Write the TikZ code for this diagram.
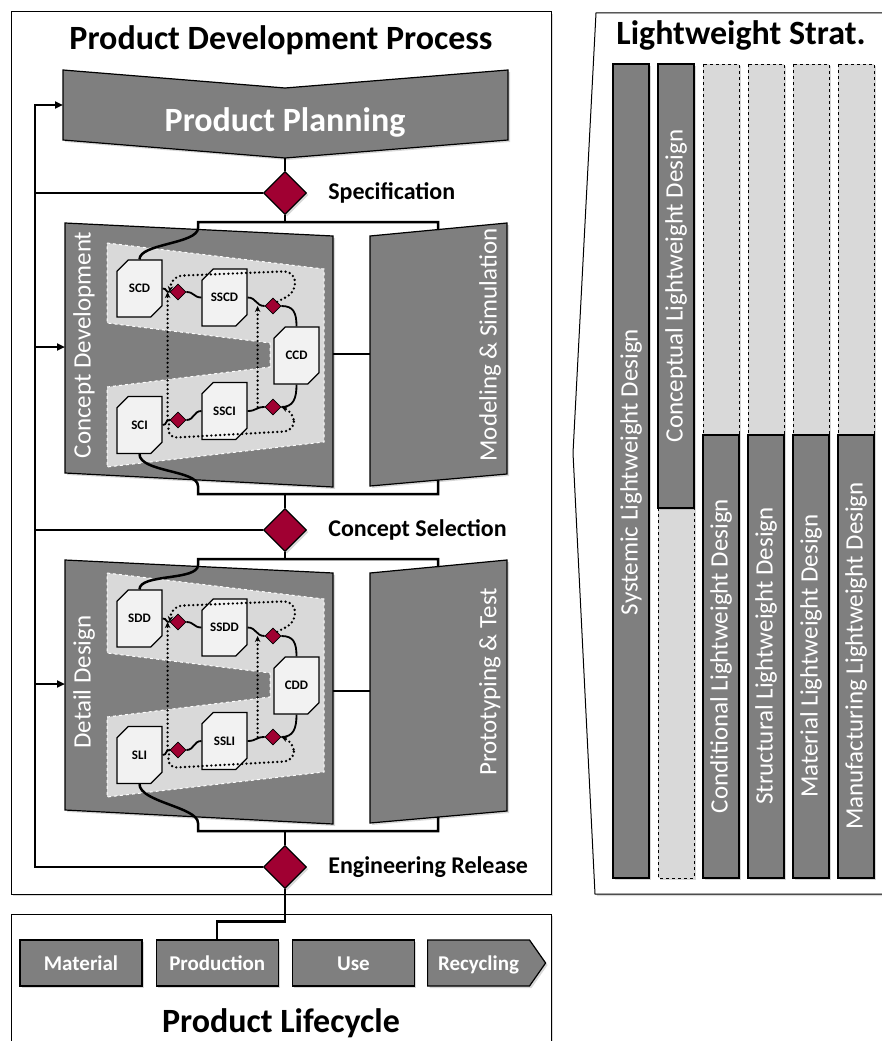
\documentclass[tikz,border=0pt]{standalone}
\usepackage{fontspec}
\setmainfont{Carlito}
\usetikzlibrary{arrows.meta, calc, positioning, shapes.geometric, shapes.misc, shapes.symbols, shadows}

\definecolor{blockgray}{RGB}{127,127,127}
\definecolor{zonegray}{RGB}{217,217,217}
\definecolor{docgray}{RGB}{242,242,242}
\definecolor{gatered}{RGB}{160,0,50}

\tikzset{
  softshadow/.style={drop shadow={opacity=.3, shadow xshift=2pt, shadow yshift=-2pt}},
  panel/.style={draw=black, line width=1pt, fill=white, softshadow},
  block/.style={draw=black, line width=1.2pt, fill=blockgray, softshadow},
  zone/.style={draw=white, dashed, line width=1pt, fill=zonegray},
  doc/.style={chamfered rectangle, chamfered rectangle corners={north west, south east},
    chamfered rectangle sep=7pt, draw=black, line width=1.2pt, fill=docgray,
    minimum width=45pt, minimum height=57pt, inner sep=0pt,
    font=\bfseries\fontsize{13}{13}\selectfont},
  gate/.style={diamond, draw=black, line width=1.2pt, fill=gatered, inner sep=0pt,
    minimum size=43pt, softshadow},
  subgate/.style={diamond, draw=black, line width=.8pt, fill=gatered, inner sep=0pt,
    minimum size=16pt},
  conn/.style={line width=2.5pt},
  link/.style={line width=1.8pt},
  iterate/.style={line width=2.6pt, line cap=round, dash pattern=on 0pt off 4.4pt,
    -{Stealth[length=6pt,width=5.5pt]}},
  tip/.style={-{Triangle[length=8pt,width=7pt]}},
  headline/.style={font=\bfseries\fontsize{34}{34}\selectfont, inner sep=0pt, anchor=base},
  gatelabel/.style={font=\bfseries\fontsize{24}{24}\selectfont, inner sep=0pt, anchor=west},
  stagetext/.style={rotate=90, text=white, inner sep=0pt, font=\fontsize{25}{25}\selectfont},
  phase/.style={draw=black, line width=1.2pt, fill=blockgray, text=white,
    minimum width=122pt, minimum height=46pt, inner sep=0pt, text height=14pt, text depth=0pt,
    font=\bfseries\fontsize{21}{21}\selectfont, softshadow},
  lwbar/.style={draw=black, line width=1.2pt, fill=blockgray, softshadow},
  lwghost/.style={draw=black, line width=.8pt, dashed, fill=zonegray, softshadow},
}

% one development stage: #1 prefix, #2 shift, #3 shift of the inner loop,
% #4 stage name, #5 side block, #6 design letter, #7 integration letter
\newcommand{\devstage}[7]{%
  \begin{scope}[shift={(0,#2)}]
    \draw[block] (65,223) -- (333,236) -- (333,487) -- (65,473) -- cycle;
    \draw[block] (370,236) -- (507,223) -- (507,474) -- (370,486) -- cycle;
    \node[stagetext] (#1stage) at (84,345) {#4};
    \node[stagetext] (#1side) at (490,345) {#5};
    \coordinate (#1in) at (65,347);
    \coordinate (#1out) at (333,354);
    \coordinate (#1sidein) at (370,354);
    \coordinate (#1tl) at (198,222);
    \coordinate (#1tr) at (438,222);
    \coordinate (#1bl) at (198,494);
    \coordinate (#1br) at (438,494);
    \coordinate (#1stop) at (438,230);
    \coordinate (#1sbot) at (438,480);
    \begin{scope}[shift={(0,#3)}]
      \draw[zone] (107,243) -- (324,269) -- (324,442) -- (107,467) -- (107,387)
        -- (270,367) -- (270,343) -- (107,323) -- cycle;
      \node[doc] (#1sys) at (139.5,288.5) {S#6D};
      \node[doc] (#1sub) at (224.5,297.5) {SS#6D};
      \node[doc] (#1comp) at (296.5,355.5) {C#6D};
      \node[doc] (#1subi) at (224.5,411) {SS#7I};
      \node[doc] (#1sysi) at (139.5,425) {S#7I};
      \node[subgate] (#1g1) at (178,292) {};
      \node[subgate] (#1g2) at (273,306) {};
      \node[subgate] (#1g3) at (273,407) {};
      \node[subgate] (#1g4) at (178,420) {};
      % iteration loops
      \draw[iterate, rounded corners=10pt] (#1g2.north east) -- (296,292) -- (294,271)
        -- (172,276) -- (#1g1.west);
      \draw[iterate] ([xshift=-2pt]#1g4.west) -- ([xshift=-2pt]#1g1.west);
      \draw[iterate, rounded corners=10pt] (#1g4.west) -- (167,438) -- (294,431)
        -- (294,412) -- (#1g3.east);
      \draw[iterate] ([xshift=-7pt]#1g3.west) -- ([xshift=-7pt]#1g2.west);
    \end{scope}
    % design chain
    \draw[link] (#1sys.east) .. controls +(5,0) and +(-5,0) .. (#1g1.west);
    \draw[link] (#1g1.east) .. controls +(8,0) and +(-8,0) .. (#1sub.west);
    \draw[link] (#1sub.east) .. controls +(9,0) and +(-9,0) .. (#1g2.west);
    \draw[link] (#1g2.east) .. controls +(12,0) and +(0,-14) .. (#1comp.north);
    \draw[link] (#1comp.south) .. controls +(0,14) and +(12,0) .. (#1g3.east);
    \draw[link] (#1g3.west) .. controls +(-9,0) and +(9,0) .. (#1subi.east);
    \draw[link] (#1subi.west) .. controls +(-8,0) and +(8,0) .. (#1g4.east);
    \draw[link] (#1g4.west) .. controls +(-5,0) and +(5,0) .. (#1sysi.east);
    % into and out of the stage
    \draw[conn] (#1stop) -- (#1tr) -- (#1tl) -- ($(#1tl)+(0,6)$)
      .. controls +(0,16) and +(0,-16) .. (#1sys.north);
    \draw[conn] (#1sysi.south) .. controls +(0,18) and +(0,-16) .. ($(#1bl)+(0,-8)$)
      -- (#1bl) -- (#1br) -- (#1sbot);
    \draw[conn] (#1out) -- (#1sidein);
  \end{scope}}

\begin{document}
\begin{tikzpicture}[x=1pt, y=-1pt]
\useasboundingbox (0,0) rectangle (882,1041);

% frames
\draw[panel] (11,12) rectangle (551,894);
\draw[panel] (11,914) rectangle (551,1090);
\draw[panel] (596,13) -- (900,13) -- (900,894) -- (595,894) -- (573,453) -- cycle;

\node[headline] (pdp) at (281,50) {Product Development Process};
\node[headline] (lws) at (741,45) {Lightweight Strat.};
\node[headline] (plc) at (281,1032) {Product Lifecycle};

% planning
\draw[block] (63,70) -- (285,88) -- (508,70) -- (508,140) -- (285,158) -- (63,140) -- cycle;
\node[font=\bfseries\fontsize{34}{34}\selectfont, text=white, inner sep=0pt, anchor=base]
  (plan) at (285,131) {Product Planning};
\coordinate (planin) at (63,105);
\coordinate (planout) at (285,158);

\devstage{c}{0}{0}{Concept Development}{Modeling \& Simulation}{C}{C}
\devstage{d}{337}{-7}{Detail Design}{Prototyping \& Test}{D}{L}

% gates
\node[gate] (spec) at (285,193) {};
\node[gate] (csel) at (285,530) {};
\node[gate] (erel) at (285,867) {};
\node[gatelabel, right=21pt of spec] (speclabel) {Specification};
\node[gatelabel, right=21pt of csel] (csellabel) {Concept Selection};
\node[gatelabel, right=21pt of erel] (erellabel) {Engineering Release};

\draw[conn] (planout) -- (spec.north);
\draw[conn] (spec.south) -- (spec.south |- ctl);
\draw[conn] (csel.north) -- (csel.north |- cbl);
\draw[conn] (csel.south) -- (csel.south |- dtl);
\draw[conn] (erel.north) -- (erel.north |- dbl);

% feedback
\coordinate (loop) at (35,105);
\draw[conn, tip] (erel.west) -| (loop) -- (planin);
\draw[conn] (spec.west) -- (spec.west -| loop);
\draw[conn] (csel.west) -- (csel.west -| loop);
\draw[conn, tip] (cin -| loop) -- (cin);
\draw[conn, tip] (din -| loop) -- (din);

% lifecycle
\node[phase] (material) at (81,963) {Material};
\node[phase, right=13pt of material] (production) {Production};
\node[phase, right=13pt of production] (use) {Use};
\node[phase, signal, signal to=east, signal pointer angle=110, minimum width=118pt,
  right=12pt of use] (recycling) {Recycling};
\draw[conn] (erel.south) |- ($(production.north)+(0,-18)$) -- (production.north);

% lightweight strategies
\draw[lwghost] (658,508) rectangle (694,878);
\foreach \x in {703,748,793,838}
  \draw[lwghost] (\x,64) rectangle ++(36,371);
\draw[lwbar] (613,64) rectangle (649,878);
\draw[lwbar] (658,64) rectangle (694,508);
\foreach \x in {703,748,793,838}
  \draw[lwbar] (\x,435) rectangle ++(36,443);
\node[stagetext] (systemic) at (631,472) {Systemic Lightweight Design};
\node[stagetext] (conceptual) at (676,286) {Conceptual Lightweight Design};
\foreach \x/\name/\txt in {721/conditional/Conditional, 766/structural/Structural,
    811/materiallw/Material, 856/manufacturing/Manufacturing}
  \node[stagetext] (\name) at (\x,656) {\txt\ Lightweight Design};
\end{tikzpicture}
\end{document}
